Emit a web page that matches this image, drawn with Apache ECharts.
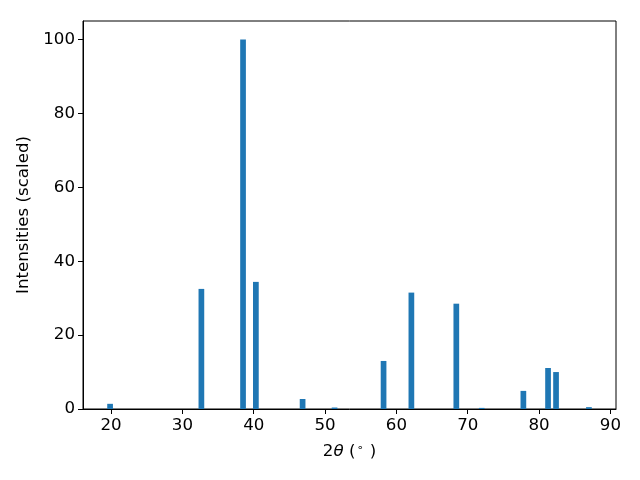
<!DOCTYPE html>
<html>
<head>
<meta charset="utf-8">
<script src="https://cdn.jsdelivr.net/npm/echarts@6/dist/echarts.min.js"></script>
<style>html,body{margin:0;padding:0;background:#fff}#c{width:640px;height:480px}</style>
</head>
<body>
<div id="c"></div>
<script>
const positions = [19.86, 32.66, 38.5, 40.3, 46.85, 51.33, 58.2, 62.1, 68.4, 71.96, 77.8, 81.26, 82.38, 86.99];
const intensities = [1.4, 32.5, 100, 34.4, 2.7, 0.4, 13.0, 31.5, 28.5, 0.3, 4.9, 11.1, 10.0, 0.5];
const xTicks = [20, 30, 40, 50, 60, 70, 80, 90];
const yTicks = [0, 20, 40, 60, 80, 100];
const barWidth = 0.8;

const lo = Math.min(...positions) - barWidth / 2;
const hi = Math.max(...positions) + barWidth / 2;
const pad = (hi - lo) * 0.05;
const xMin = lo - pad, xMax = hi + pad;
const yMax = Math.max(...intensities) * 1.05;

const font = 'DejaVu Sans';
const fs = 16.67;
const chart = echarts.init(document.getElementById('c'));
chart.setOption({
  animation: false,
  grid: { left: 83, right: 24, top: 21, bottom: 71, show: true, borderColor: '#000', borderWidth: 1 },
  xAxis: {
    type: 'value', min: xMin, max: xMax,
    axisLine: { show: true, lineStyle: { color: '#000', width: 1 } },
    axisTick: { show: true, length: 5, inside: false, customValues: xTicks, lineStyle: { color: '#000' } },
    axisLabel: { customValues: xTicks, color: '#000', fontFamily: font, fontSize: fs, margin: 8 },
    splitLine: { show: false },
    name: '{a|2}{i|θ}{a| (}{s|∘}{a| )}',
    nameLocation: 'middle', nameGap: 34,
    nameTextStyle: {
      rich: {
        a: { fontFamily: font, fontSize: fs, color: '#000' },
        i: { fontFamily: font, fontSize: fs, fontStyle: 'italic', color: '#000' },
        s: { fontFamily: font, fontSize: 11, color: '#000', verticalAlign: 'top', padding: [0, 1, 7, 1] }
      }
    }
  },
  yAxis: {
    type: 'value', min: 0, max: yMax,
    axisLine: { show: true, lineStyle: { color: '#000', width: 1 } },
    axisTick: { show: true, length: 5, customValues: yTicks, lineStyle: { color: '#000' } },
    axisLabel: { customValues: yTicks, color: '#000', fontFamily: font, fontSize: fs, margin: 8 },
    splitLine: { show: false },
    name: 'Intensities (scaled)',
    nameLocation: 'middle', nameGap: 45,
    nameTextStyle: { fontFamily: font, fontSize: fs, color: '#000' }
  },
  series: [{
    type: 'custom',
    data: positions.map((p, i) => [p, intensities[i]]),
    renderItem: function (params, api) {
      const x = api.value(0), y = api.value(1);
      const p1 = api.coord([x - barWidth / 2, y]);
      const p2 = api.coord([x + barWidth / 2, 0]);
      return {
        type: 'rect',
        shape: { x: p1[0], y: p1[1], width: p2[0] - p1[0], height: p2[1] - p1[1] },
        style: { fill: '#1f77b4' }
      };
    }
  }]
});
</script>
</body>
</html>
